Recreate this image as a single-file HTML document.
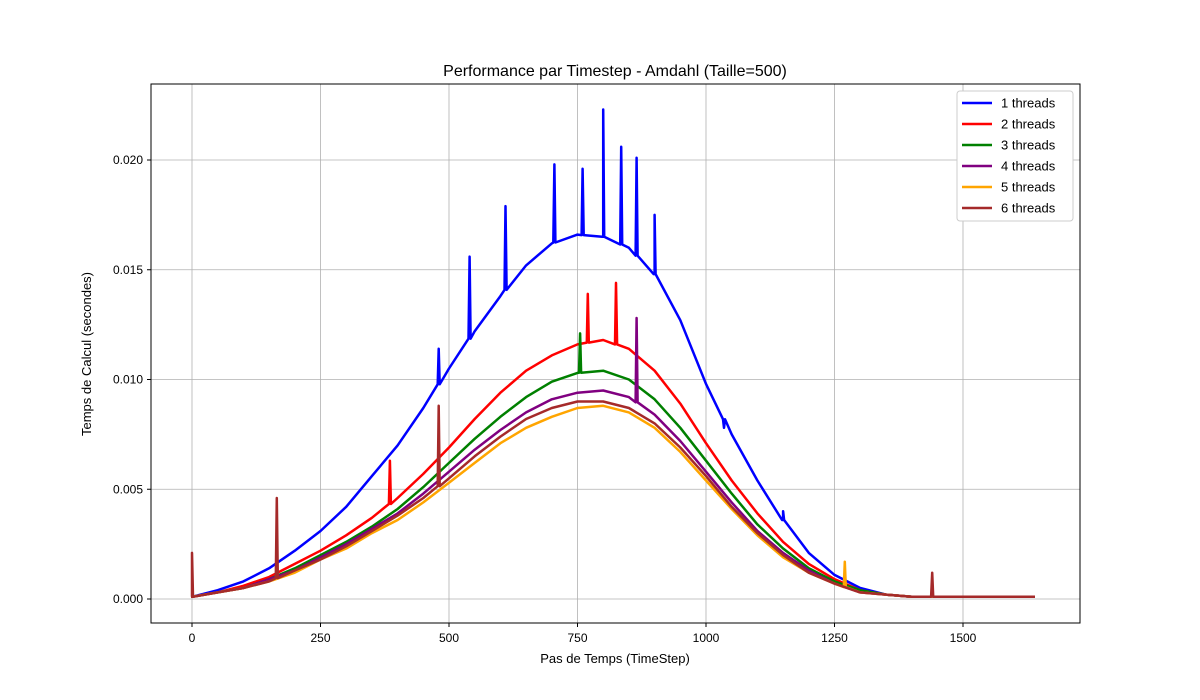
<!DOCTYPE html>
<html><head><meta charset="utf-8"><style>
body{margin:0;background:#fff;}
svg{display:block;font-family:"Liberation Sans","DejaVu Sans",sans-serif;}
</style></head><body>
<svg id="chart" width="1200" height="700" viewBox="0 0 1200 700" xmlns="http://www.w3.org/2000/svg">
<rect width="1200" height="700" fill="#fff"/>
<g id="grid"></g>
<g id="series" clip-path="url(#clip)"></g>
<defs><clipPath id="clip"><rect x="151" y="84" width="929" height="539"/></clipPath></defs>
<rect x="151" y="84" width="929" height="539" fill="none" stroke="#000" stroke-width="1"/>
<g id="ticks"></g>
<text x="615" y="76" text-anchor="middle" font-size="16">Performance par Timestep - Amdahl (Taille=500)</text>
<text x="615" y="663" text-anchor="middle" font-size="13">Pas de Temps (TimeStep)</text>
<text transform="translate(91,354) rotate(-90)" text-anchor="middle" font-size="13">Temps de Calcul (secondes)</text>
<g id="legend"></g>
</svg>
<script>
const xs = [0,50,100,150,200,250,300,350,400,450,500,550,600,650,700,750,800,850,900,950,1000,1050,1100,1150,1200,1250,1300,1350,1400,1450,1500,1550,1600,1640];
const s1 = [0.0001,0.0004,0.0008,0.0014,0.0022,0.0031,0.0042,0.0056,0.0070,0.0087,0.0105,0.0122,0.0138,0.0152,0.0162,0.0166,0.0165,0.0160,0.0148,0.0127,0.0098,0.0075,0.0054,0.0036,0.0021,0.0011,0.0005,0.0002,0.0001,0.0001,0.0001,0.0001,0.0001,0.0001];
const s2 = [0.0001,0.0003,0.0006,0.0010,0.0016,0.0022,0.0029,0.0037,0.0046,0.0057,0.0069,0.0082,0.0094,0.0104,0.0111,0.0116,0.0118,0.0114,0.0104,0.0089,0.0071,0.0054,0.0039,0.0026,0.0016,0.0009,0.0004,0.0002,0.0001,0.0001,0.0001,0.0001,0.0001,0.0001];
const s3 = [0.0001,0.0003,0.0005,0.0009,0.0014,0.0020,0.0026,0.0033,0.0041,0.0051,0.0062,0.0073,0.0083,0.0092,0.0099,0.0103,0.0104,0.0100,0.0091,0.0078,0.0063,0.0048,0.0034,0.0023,0.0014,0.0008,0.0004,0.0002,0.0001,0.0001,0.0001,0.0001,0.0001,0.0001];
const s4 = [0.0001,0.0003,0.0005,0.0009,0.0013,0.0019,0.0025,0.0032,0.0039,0.0048,0.0058,0.0068,0.0077,0.0085,0.0091,0.0094,0.0095,0.0092,0.0084,0.0072,0.0058,0.0044,0.0031,0.0021,0.0013,0.0007,0.0003,0.0002,0.0001,0.0001,0.0001,0.0001,0.0001,0.0001];
const s5 = [0.0001,0.0003,0.0005,0.0008,0.0012,0.0018,0.0023,0.0030,0.0036,0.0044,0.0053,0.0062,0.0071,0.0078,0.0083,0.0087,0.0088,0.0085,0.0078,0.0067,0.0054,0.0041,0.0029,0.0019,0.0012,0.0007,0.0003,0.0002,0.0001,0.0001,0.0001,0.0001,0.0001,0.0001];
const s6 = [0.0001,0.0003,0.0005,0.0008,0.0013,0.0018,0.0024,0.0031,0.0038,0.0046,0.0055,0.0065,0.0074,0.0082,0.0087,0.0090,0.0090,0.0087,0.0080,0.0069,0.0056,0.0042,0.0030,0.0020,0.0012,0.0007,0.0003,0.0002,0.0001,0.0001,0.0001,0.0001,0.0001,0.0001];
const spikeX1 = [480,540,610,705,760,800,835,865,900,1035,1150];
const spikeY1 = [0.0114,0.0156,0.0179,0.0198,0.0196,0.0223,0.0206,0.0201,0.0175,0.0078,0.0040];
const spikeX2 = [385,770,825];
const spikeY2 = [0.0063,0.0139,0.0144];
const spikeX3 = [755];
const spikeY3 = [0.0121];
const spikeX4 = [865];
const spikeY4 = [0.0128];
const spikeX5 = [1270];
const spikeY5 = [0.0017];
const spikeX6 = [0,165,480,1440];
const spikeY6 = [0.0021,0.0046,0.0088,0.0012];
const labels = ["1 threads","2 threads","3 threads","4 threads","5 threads","6 threads"];
const colors = ["#0000ff","#ff0000","#008000","#800080","#ffa500","#a52a2a"];
const xTicks = [0,250,500,750,1000,1250,1500];
const yTicks = [0,0.005,0.010,0.015,0.020];
const yTickLabels = ["0.000","0.005","0.010","0.015","0.020"];

const NS="http://www.w3.org/2000/svg";
const X = v => 192 + v*0.514;
const Y = v => 599 - v*21950;
function mk(tag, attrs, parent){const e=document.createElementNS(NS,tag);for(const k in attrs)e.setAttribute(k,attrs[k]);parent.appendChild(e);return e;}
const grid=document.getElementById('grid'), ticks=document.getElementById('ticks');
xTicks.forEach(t=>{
  const g=mk('line',{x1:X(t),x2:X(t),y1:84,y2:623,stroke:'#b0b0b0','stroke-width':0.8},grid);
  
  
  mk('line',{x1:X(t),x2:X(t),y1:623,y2:627,stroke:'#000'},ticks);
  const tx=mk('text',{x:X(t),y:642,'text-anchor':'middle','font-size':12},ticks);
  tx.textContent=t;
  
  
});
yTicks.forEach((t,i)=>{
  const g=mk('line',{x1:151,x2:1080,y1:Y(t),y2:Y(t),stroke:'#b0b0b0','stroke-width':0.8},grid);
  
  
  mk('line',{x1:147,x2:151,y1:Y(t),y2:Y(t),stroke:'#000'},ticks);
  const tx=mk('text',{x:143,y:Y(t)+4,'text-anchor':'end','font-size':12},ticks);
  tx.textContent=yTickLabels[i];
  
  
});
const series=[s1,s2,s3,s4,s5,s6];
const sx=[spikeX1,spikeX2,spikeX3,spikeX4,spikeX5,spikeX6];
const sy=[spikeY1,spikeY2,spikeY3,spikeY4,spikeY5,spikeY6];
function interp(arr,x){for(let i=0;i<xs.length-1;i++){if(x>=xs[i]&&x<=xs[i+1]){const f=(x-xs[i])/(xs[i+1]-xs[i]);return arr[i]+f*(arr[i+1]-arr[i]);}}return arr[arr.length-1];}
const sg=document.getElementById('series');
series.forEach((arr,k)=>{
  let pts=xs.map((x,i)=>[x,arr[i]]);
  sx[k].forEach((x,j)=>{const b=interp(arr,x);pts.push([x-2,b],[x,sy[k][j]],[x+2,b]);});
  pts.sort((a,b)=>a[0]-b[0]);
  const p=mk('polyline',{points:pts.map(q=>X(q[0]).toFixed(1)+','+Y(q[1]).toFixed(1)).join(' '),fill:'none',stroke:colors[k],'stroke-width':2.5,'stroke-linejoin':'round'},sg);
  
  
});
const lg=document.getElementById('legend');
mk('rect',{x:957,y:91,width:116,height:130,fill:'#fff',stroke:'#ccc',rx:3},lg);
labels.forEach((l,i)=>{
  const y=103+i*21;
  const ln=mk('line',{x1:962,x2:992,y1:y,y2:y,stroke:colors[i],'stroke-width':2.5},lg);
  
  
  const t=mk('text',{x:1001,y:y+4.5,'font-size':13},lg);
  t.textContent=l;
  
  
});
</script>
</body></html>
